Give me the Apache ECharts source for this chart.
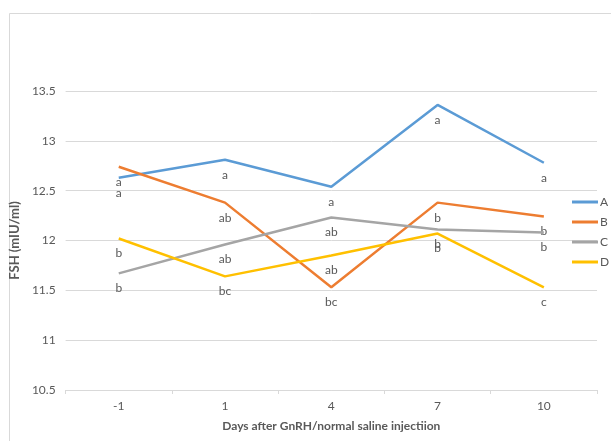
<!DOCTYPE html>
<html>
<head>
<meta charset="utf-8">
<script src="https://cdn.jsdelivr.net/npm/echarts@6/dist/echarts.min.js"></script>
<style>
  html, body { margin: 0; padding: 0; background: #fff; }
  #chart { width: 611px; height: 441px; }
</style>
</head>
<body>
<div id="chart"></div>
<script>
var days = ['-1', '1', '4', '7', '10'];
var seriesNames = ['A', 'B', 'C', 'D'];
var colors = ['#5b9bd5', '#ed7d31', '#a5a5a5', '#ffc000'];

var valuesA = [12.63, 12.81, 12.54, 13.36, 12.78];
var valuesB = [12.74, 12.38, 11.53, 12.38, 12.24];
var valuesC = [11.67, 11.96, 12.23, 12.11, 12.08];
var valuesD = [12.02, 11.64, 11.85, 12.07, 11.53];

// letters under each point
var lettersA = ['a', 'a', 'a', 'a', 'a'];
var lettersB = ['a', 'ab', 'bc', 'b', 'b'];
var lettersC = ['b', 'ab', 'ab', 'b', 'b'];
var lettersD = ['b', 'bc', 'ab', 'b', 'c'];

var yTicks = [10.5, 11, 11.5, 12, 12.5, 13, 13.5];

var allValues = [valuesA, valuesB, valuesC, valuesD];
var allLetters = [lettersA, lettersB, lettersC, lettersD];

var font = 'Lato';
var chart = echarts.init(document.getElementById('chart'));

var series = seriesNames.map(function (name, i) {
  return {
    name: name,
    type: 'line',
    data: allValues[i].map(function (v, j) {
      return { value: v, label: { formatter: allLetters[i][j] } };
    }),
    symbol: 'circle',
    symbolSize: 0,
    showSymbol: true,
    lineStyle: { color: colors[i], width: 2.5 },
    itemStyle: { color: colors[i] },
    label: {
      show: true,
      position: 'bottom',
      distance: 9,
      color: '#595959',
      fontSize: 12,
      fontFamily: font
    },
    emphasis: { disabled: true },
    z: 2 + i
  };
});

var option = {
  animation: false,
  backgroundColor: '#fff',
  graphic: [{
    type: 'rect',
    shape: { x: 9.5, y: 13.5, width: 620, height: 440 },
    style: { fill: 'none', stroke: '#d9d9d9', lineWidth: 1 },
    silent: true
  }],
  grid: { left: 65, right: 14, top: 91, bottom: 51 },
  legend: {
    orient: 'vertical',
    left: 567,
    top: 191,
    itemWidth: 26,
    itemHeight: 3,
    itemGap: 8,
    icon: 'rect',
    textStyle: { color: '#595959', fontSize: 12, fontFamily: font, padding: [0, 0, 0, -3] },
    data: seriesNames.map(function (n, i) { return { name: n, itemStyle: { color: colors[i] } }; })
  },
  xAxis: {
    type: 'category',
    data: days,
    boundaryGap: true,
    name: 'Days after GnRH/normal saline injectiion',
    nameLocation: 'middle',
    nameGap: 30,
    nameTextStyle: { color: '#595959', fontSize: 12, fontWeight: 'bold', fontFamily: font },
    axisLine: { lineStyle: { color: '#d9d9d9' } },
    axisTick: { show: true, length: 4, lineStyle: { color: '#d9d9d9' } },
    axisLabel: { color: '#595959', fontSize: 12, fontFamily: font, margin: 10 },
    splitLine: { show: false }
  },
  yAxis: {
    type: 'value',
    min: yTicks[0],
    max: yTicks[yTicks.length - 1],
    interval: 0.5,
    name: 'FSH (mIU/ml)',
    nameLocation: 'middle',
    nameGap: 41,
    nameRotate: 90,
    nameTextStyle: { color: '#595959', fontSize: 13, fontWeight: 'bold', fontFamily: font },
    axisLine: { show: false },
    axisTick: { show: false },
    axisLabel: { color: '#595959', fontSize: 12, fontFamily: font, margin: 10 },
    splitLine: { lineStyle: { color: '#d9d9d9' } }
  },
  series: series
};

chart.setOption(option);
</script>
</body>
</html>
